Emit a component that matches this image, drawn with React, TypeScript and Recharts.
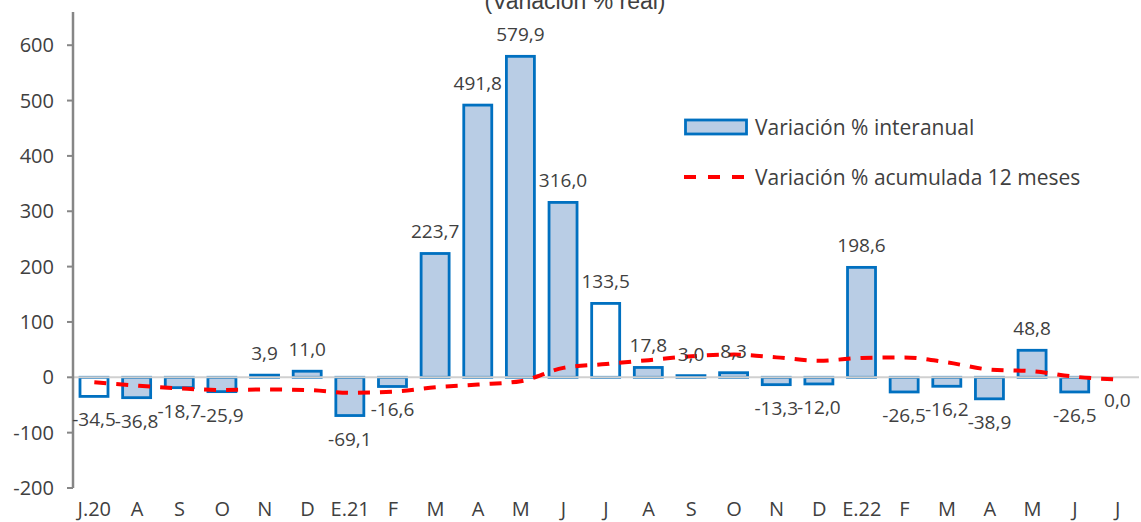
import { ComposedChart, Bar, Line, XAxis, YAxis, ReferenceLine, Cell, LabelList, Legend } from 'recharts';

const meses = ['J.20', 'A', 'S', 'O', 'N', 'D', 'E.21', 'F', 'M', 'A', 'M', 'J', 'J', 'A', 'S', 'O', 'N', 'D', 'E.22', 'F', 'M', 'A', 'M', 'J', 'J'];
const interanual = [-34.5, -36.8, -18.7, -25.9, 3.9, 11.0, -69.1, -16.6, 223.7, 491.8, 579.9, 316.0, 133.5, 17.8, 3.0, 8.3, -13.3, -12.0, 198.6, -26.5, -16.2, -38.9, 48.8, -26.5, 0.0];
const acumulada = [-9, -15, -20, -23, -22, -23, -28, -26, -18, -13, -7, 17, 24, 31, 38, 41, 36, 30, 35, 36, 27, 14, 11, 1, -4];
// julio: barras sin relleno
const sinRelleno = [0, 12];
const yTicks = [-200, -100, 0, 100, 200, 300, 400, 500, 600];

const data = meses.map((mes, i) => ({ mes, interanual: interanual[i], acumulada: acumulada[i] }));

const FONT = '"Open Sans", sans-serif';
const TXT = '#404040';
const AZUL = '#0070C0';
const RELLENO = '#B9CDE5';

const fmt = (v: number) => v.toFixed(1).replace('.', ',');

const BarShape = (props: any) => {
  const { x, y, width, height, fill } = props;
  const top = Math.min(y, y + height);
  const h = Math.abs(height);
  return <rect x={x} y={top} width={width} height={h} fill={fill} stroke={AZUL} strokeWidth={2.8} />;
};

const renderLabel = (props: any) => {
  const { x, y, width, height, value } = props;
  const top = Math.min(y, y + height);
  const bottom = Math.max(y, y + height);
  const cx = x + width / 2;
  const ty = value > 0 ? top - 15 : bottom + 30;
  return (
    <text x={cx} y={ty} textAnchor="middle" fontFamily={FONT} fontSize={19} fill={TXT}>
      {fmt(value)}
    </text>
  );
};

const renderLegend = () => (
  <div style={{ fontFamily: FONT, fontSize: 21, color: TXT }}>
    <div style={{ display: 'flex', alignItems: 'center', height: 36 }}>
      <svg width={66} height={20} style={{ marginRight: 5 }}>
        <rect x={1.5} y={3} width={61} height={14} fill={RELLENO} stroke={AZUL} strokeWidth={2.8} />
      </svg>
      <span>Variación % interanual</span>
    </div>
    <div style={{ display: 'flex', alignItems: 'center', height: 36, marginTop: 14 }}>
      <svg width={66} height={20} style={{ marginRight: 5 }}>
        <line x1={0} y1={10} x2={64} y2={10} stroke="#FF0000" strokeWidth={4} strokeDasharray="12 12" />
      </svg>
      <span>Variación % acumulada 12 meses</span>
    </div>
  </div>
);

export default function App() {
  return (
    <div style={{ position: 'absolute', left: 0, top: 0 }}>
      <ComposedChart width={1141} height={522} data={data} margin={{ top: 12, right: 2, bottom: 0, left: 0 }}>
        <text x={575} y={9} textAnchor="middle" fontFamily='"Liberation Sans", Arial, sans-serif' fontSize={23} fill={TXT}>
          (Variación % real)
        </text>
        <XAxis
          dataKey="mes"
          axisLine={false}
          tickLine={false}
          tickSize={0}
          tickMargin={14}
          height={34}
          interval={0}
          tick={{ fontFamily: FONT, fontSize: 20, fill: TXT }}
        />
        <YAxis
          domain={[-200, 660]}
          ticks={yTicks}
          allowDataOverflow
          width={73}
          axisLine={{ stroke: '#868686', strokeWidth: 2.5 }}
          tickLine={{ stroke: '#868686', strokeWidth: 2 }}
          tickSize={6}
          tickMargin={13}
          tick={{ fontFamily: FONT, fontSize: 20, fill: TXT }}
        />
        <ReferenceLine y={0} stroke="#D0D0D0" strokeWidth={2} />
        <Bar dataKey="interanual" barSize={28} shape={BarShape} isAnimationActive={false}>
          {data.map((_, i) => (
            <Cell key={`c-${i}`} fill={sinRelleno.includes(i) ? '#FFFFFF' : RELLENO} />
          ))}
          <LabelList dataKey="interanual" content={renderLabel} />
        </Bar>
        <Line
          type="monotone"
          dataKey="acumulada"
          stroke="#FF0000"
          strokeWidth={4}
          strokeDasharray="12 10"
          dot={false}
          activeDot={false}
          isAnimationActive={false}
        />
        <Legend
          layout="horizontal"
          verticalAlign="middle"
          align="center"
          content={renderLegend}
          wrapperStyle={{ top: 109, left: 684, width: 'auto' }}
        />
      </ComposedChart>
    </div>
  );
}
